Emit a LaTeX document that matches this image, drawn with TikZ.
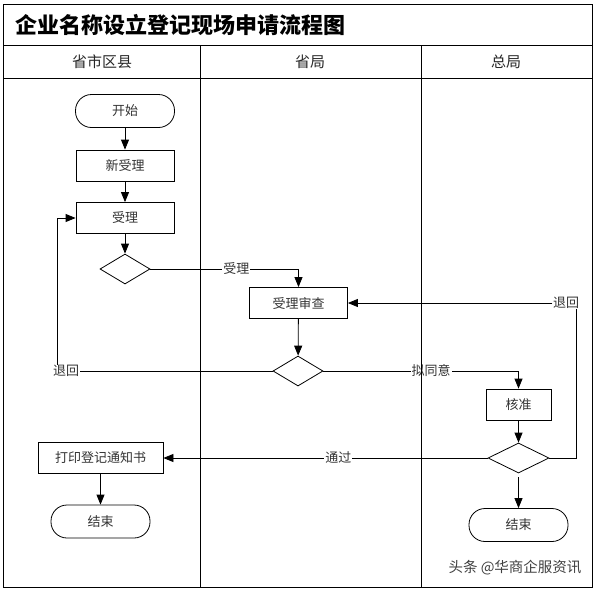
\documentclass[tikz,border=0pt]{standalone}
\usepackage{fontspec}
\newfontfamily\cjk{Noto Sans CJK SC}
\usetikzlibrary{shapes.geometric,arrows.meta}
\begin{document}
\begin{tikzpicture}[x=1pt,y=-1pt,
  box/.style={draw, line width=0.8pt, minimum width=98pt, minimum height=31pt, inner sep=0pt, font=\cjk\fontsize{13}{15}\selectfont, text=black!80},
  term/.style={box, rounded corners=16pt, minimum width=99pt, minimum height=33pt},
  dec/.style={draw, diamond, line width=0.8pt, minimum width=50pt, minimum height=30pt, inner sep=0pt},
  lbl/.style={font=\cjk\fontsize{13}{15}\selectfont, text=black!80, inner sep=1pt, fill=white},
  conn/.style={line width=0.8pt},
  arr/.style={conn, -{Triangle[length=10pt,width=8pt]}},
  frame/.style={line width=0.9pt},
  head/.style={font=\cjk\fontsize{15}{17}\selectfont, text=black!85}
]
\useasboundingbox (0,0) rectangle (596,590);
% frame
\draw[frame] (3.5,4) rectangle (592,587);
\draw[frame] (3.5,45) -- (592,45);
\draw[frame] (3.5,78) -- (592,78);
% title and headers
\node[anchor=west, font=\cjk\bfseries\fontsize{22}{25}\selectfont] (title) at (12,25) {企业名称设立登记现场申请流程图};
\node[head] (h1) at (102,62) {省市区县};
\node[head] (h2) at (310,62) {省局};
\node[head] (h3) at (506,62) {总局};
% nodes
\node[term] (start) at (125,111) {开始};
\node[box] (new) at (125,165.5) {新受理};
\node[box] (acc) at (125,218) {受理};
\node[dec] (d1) at (125,269) {};
\node[box] (rev) at (298.5,303) {受理审查};
\node[dec] (d2) at (298,371) {};
\node[box, minimum width=65pt] (app) at (518.5,404.5) {核准};
\node[dec, minimum width=61pt] (d3) at (518.5,458) {};
\node[box, minimum width=125pt] (print) at (100.5,458) {打印登记通知书};
\node[term] (end1) at (100.5,521.5) {结束};
\node[term] (end2) at (518.5,525) {结束};
\node[lbl, inner sep=0.5pt] (tui1) at (66,371) {退回};
\node[lbl, inner sep=0.5pt] (tui2) at (566,303) {退回};
\coordinate (lx) at (57.5,0);
\coordinate (rx) at (576.5,0);
% connectors
\draw[arr] (start) -- (new);
\draw[arr] (new) -- (acc);
\draw[arr] (acc) -- (d1);
\draw[arr] (d1.east) -| node[lbl, pos=0.29] {受理} (rev.north);
\draw[arr] (rev) -- (d2);
\draw[arr] (d2.east) -| node[lbl, pos=0.276] {拟同意} (app.north);
\draw[conn] (d2.west) -- (tui1.east);
\draw[arr] (tui1.north -| lx) |- (acc.west);
\draw[arr] (app) -- (d3);
\draw[conn] (d3.east) -| (tui2.south -| rx);
\draw[arr] (tui2.west) -- (rev.east);
\draw[arr] (d3.west) -- node[lbl, pos=0.46] {通过} (print.east);
\draw[arr, shorten <=4pt] (d3.south) -- (end2.north);
\draw[arr] (print) -- (end1);
% lane dividers (drawn over the labels, as in the reference)
\draw[frame] (200.5,45) -- (200.5,587);
\draw[frame] (421,45) -- (421,587);
% watermark
\node[font=\cjk\fontsize{14.5}{16}\selectfont, text=black!75] (wm) at (515,568) {头条 @华商企服资讯};
\end{tikzpicture}
\end{document}
